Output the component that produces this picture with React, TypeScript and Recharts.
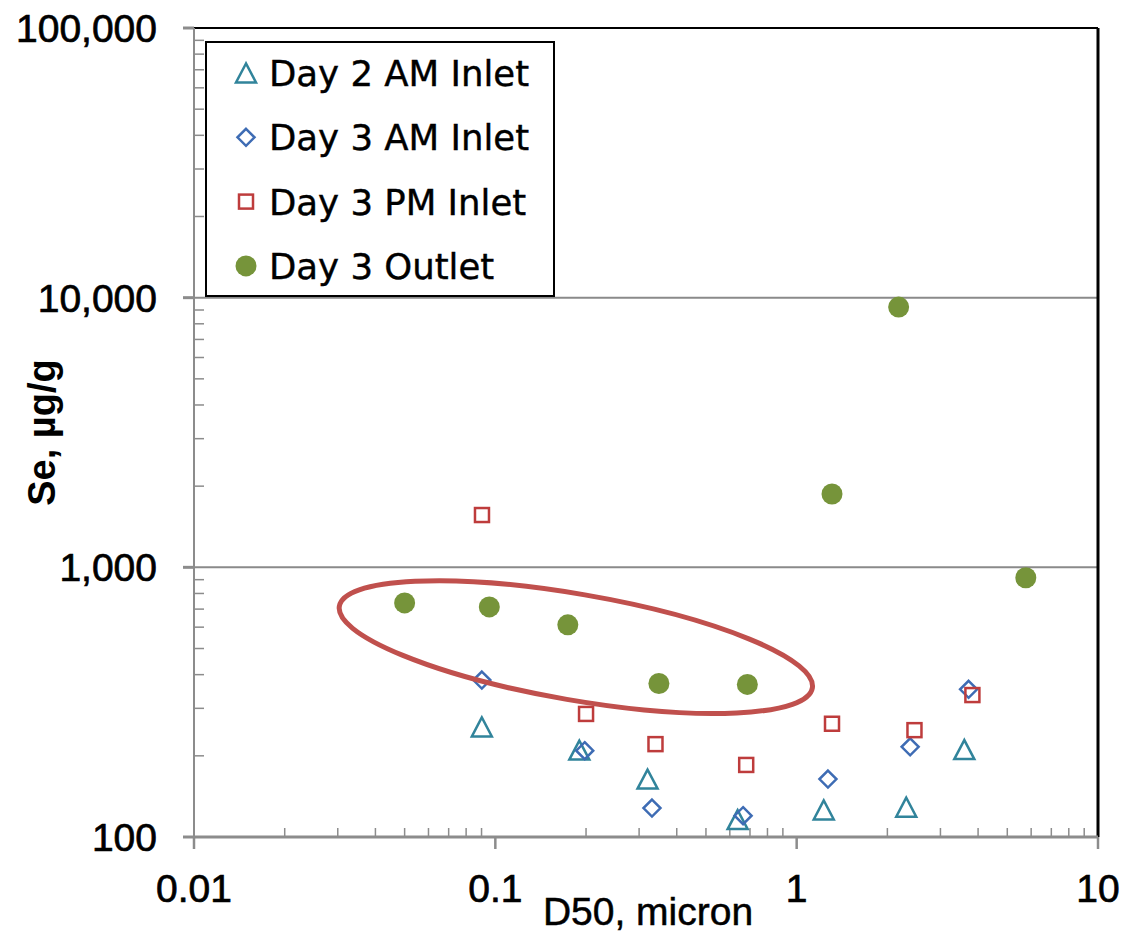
import React from 'react'
import {
  ScatterChart, Scatter, XAxis, YAxis, CartesianGrid,
  ReferenceLine, ReferenceDot, Legend,
} from 'recharts'

const xTicks = [0.01, 0.1, 1, 10]
const yTicks = [100, 1000, 10000, 100000]
const xMinorTicks = [
  0.02, 0.03, 0.04, 0.05, 0.06, 0.07, 0.08, 0.09,
  0.2, 0.3, 0.4, 0.5, 0.6, 0.7, 0.8, 0.9,
  2, 3, 4, 5, 6, 7, 8, 9,
]
const yMinorTicks = [
  200, 300, 400, 500, 600, 700, 800, 900,
  2000, 3000, 4000, 5000, 6000, 7000, 8000, 9000,
  20000, 30000, 40000, 50000, 60000, 70000, 80000, 90000,
]

// D50 (micron) and Se (ug/g)
const day2AmX = [0.0902, 0.19, 0.32, 0.637, 1.23, 2.31, 3.6]
const day2AmY = [256, 210, 164, 116, 126, 129, 211]
const day3AmX = [0.0902, 0.198, 0.331, 0.664, 1.27, 2.38, 3.72]
const day3AmY = [382, 209, 128, 120, 164, 216, 353]
const day3PmX = [0.0903, 0.2, 0.34, 0.68, 1.31, 2.46, 3.83]
const day3PmY = [1563, 286, 221, 185, 263, 249, 336]
const outletX = [0.05, 0.0955, 0.174, 0.349, 0.686, 1.31, 2.18, 5.76]
const outletY = [738, 713, 612, 371, 368, 1871, 9230, 915]

// centre of the hand drawn ellipse, in data units
const ringX = 0.185
const ringY = 506

const TEAL = '#31849B'
const BLUE = '#3E6CB4'
const RED = '#BE3C3C'
const GREEN = '#76943A'
const RING = '#C0504D'
const AXIS = '#8c8c8c'

const zip = (xs: number[], ys: number[]) => xs.map((x, i) => ({ x, y: ys[i] }))

const Triangle = ({ cx, cy }: any) => (
  <polygon
    points={`${cx},${cy - 9.5} ${cx - 10},${cy + 9.5} ${cx + 10},${cy + 9.5}`}
    fill="none" stroke={TEAL} strokeWidth={2.5}
  />
)
const Diamond = ({ cx, cy }: any) => (
  <polygon
    points={`${cx},${cy - 8.5} ${cx + 8.5},${cy} ${cx},${cy + 8.5} ${cx - 8.5},${cy}`}
    fill="none" stroke={BLUE} strokeWidth={2.5}
  />
)
const Square = ({ cx, cy }: any) => (
  <rect x={cx - 7} y={cy - 7} width={14} height={14} fill="none" stroke={RED} strokeWidth={2.5} />
)
const Dot = ({ cx, cy }: any) => <circle cx={cx} cy={cy} r={10.5} fill={GREEN} />

const Ring = ({ cx, cy }: any) => (
  <ellipse
    cx={cx} cy={cy} rx={240} ry={53}
    transform={`rotate(9.8 ${cx} ${cy})`}
    fill="none" stroke={RING} strokeWidth={5}
  />
)

// minor ticks point into the plot
const XMinor = ({ cx, cy }: any) => (
  <line x1={cx} x2={cx} y1={cy} y2={cy - 9} stroke={AXIS} strokeWidth={1.5} />
)
const YMinor = ({ cx, cy }: any) => (
  <line x1={cx} x2={cx + 10} y1={cy} y2={cy} stroke={AXIS} strokeWidth={1.5} />
)

const legendItems = [
  { label: 'Day 2 AM Inlet', Shape: Triangle },
  { label: 'Day 3 AM Inlet', Shape: Diamond },
  { label: 'Day 3 PM Inlet', Shape: Square },
  { label: 'Day 3 Outlet', Shape: Dot },
]

const LegendBox = () => (
  <svg width={350} height={256} style={{ display: 'block' }}>
    <rect x={1} y={1} width={348} height={254} fill="#fff" stroke="#000" strokeWidth={2} />
    {legendItems.map(({ label, Shape }, i) => {
      const cy = 32 + i * 64.3
      return (
        <g key={label}>
          <Shape cx={41} cy={cy} />
          <text x={64} y={cy + 13} fontFamily="DejaVu Sans" fontSize={35.5} fill="#000"
            stroke="#000" strokeWidth={0.4}>{label}</text>
        </g>
      )
    })}
  </svg>
)

const tickFont = {
  fontFamily: 'Liberation Sans, Arial, sans-serif', fontSize: 39, fill: '#000',
  stroke: '#000', strokeWidth: 0.7,
}

const YTitle = ({ viewBox }: any) => {
  const x = viewBox.x + 55
  const y = viewBox.y + viewBox.height / 2
  return (
    <text x={x} y={y} transform={`rotate(-90 ${x} ${y})`} textAnchor="middle"
      fontFamily="Liberation Sans, Arial, sans-serif" fontWeight="bold" fontSize={38} fill="#000">
      Se, µg/g
    </text>
  )
}

const XTitle = ({ viewBox }: any) => (
  <text x={viewBox.x + viewBox.width / 2 + 2} y={viewBox.y + 88} textAnchor="middle"
    fontFamily="Liberation Sans, Arial, sans-serif" fontSize={39} fill="#000"
    stroke="#000" strokeWidth={0.5}>
    D50, micron
  </text>
)

export default function App() {
  return (
    <div style={{ position: 'absolute', left: 0, top: 0, background: '#fff' }}>
      <ScatterChart width={1140} height={936} margin={{ top: 28, right: 42, left: 0, bottom: 0 }}>
        <CartesianGrid horizontal vertical={false} stroke="#8a8a8a" strokeWidth={2} />
        <XAxis
          type="number" dataKey="x" scale="log" domain={[0.01, 10]} ticks={xTicks}
          allowDataOverflow height={99}
          tickFormatter={v => String(v)}
          tick={tickFont} tickSize={12} tickMargin={25}
          axisLine={{ stroke: AXIS, strokeWidth: 3 }}
          tickLine={{ stroke: AXIS, strokeWidth: 2.5 }}
          label={{ content: XTitle }}
        />
        <YAxis
          type="number" dataKey="y" scale="log" domain={[100, 100000]} ticks={yTicks}
          allowDataOverflow width={194}
          tickFormatter={v => v.toLocaleString('en-US')}
          tick={tickFont} tickSize={11} tickMargin={26}
          axisLine={{ stroke: AXIS, strokeWidth: 2 }}
          tickLine={{ stroke: AXIS, strokeWidth: 3 }}
          label={{ content: YTitle }}
        />
        <ReferenceLine y={100000} stroke="#000" strokeWidth={2} />
        <ReferenceLine x={10} stroke="#000" strokeWidth={3} />
        {xMinorTicks.map(v => (
          <ReferenceDot key={`xm${v}`} x={v} y={100} shape={XMinor} />
        ))}
        {yMinorTicks.map(v => (
          <ReferenceDot key={`ym${v}`} x={0.01} y={v} shape={YMinor} />
        ))}
        <Scatter name="Day 2 AM Inlet" data={zip(day2AmX, day2AmY)} shape={Triangle} isAnimationActive={false} />
        <Scatter name="Day 3 AM Inlet" data={zip(day3AmX, day3AmY)} shape={Diamond} isAnimationActive={false} />
        <Scatter name="Day 3 PM Inlet" data={zip(day3PmX, day3PmY)} shape={Square} isAnimationActive={false} />
        <Scatter name="Day 3 Outlet" data={zip(outletX, outletY)} shape={Dot} isAnimationActive={false} />
        <ReferenceDot x={ringX} y={ringY} shape={Ring} />
        <Legend
          layout="vertical" align="center" verticalAlign="middle"
          content={LegendBox}
          wrapperStyle={{ position: 'absolute', left: 205, top: 41, width: 350, height: 256 }}
        />
      </ScatterChart>
    </div>
  )
}
